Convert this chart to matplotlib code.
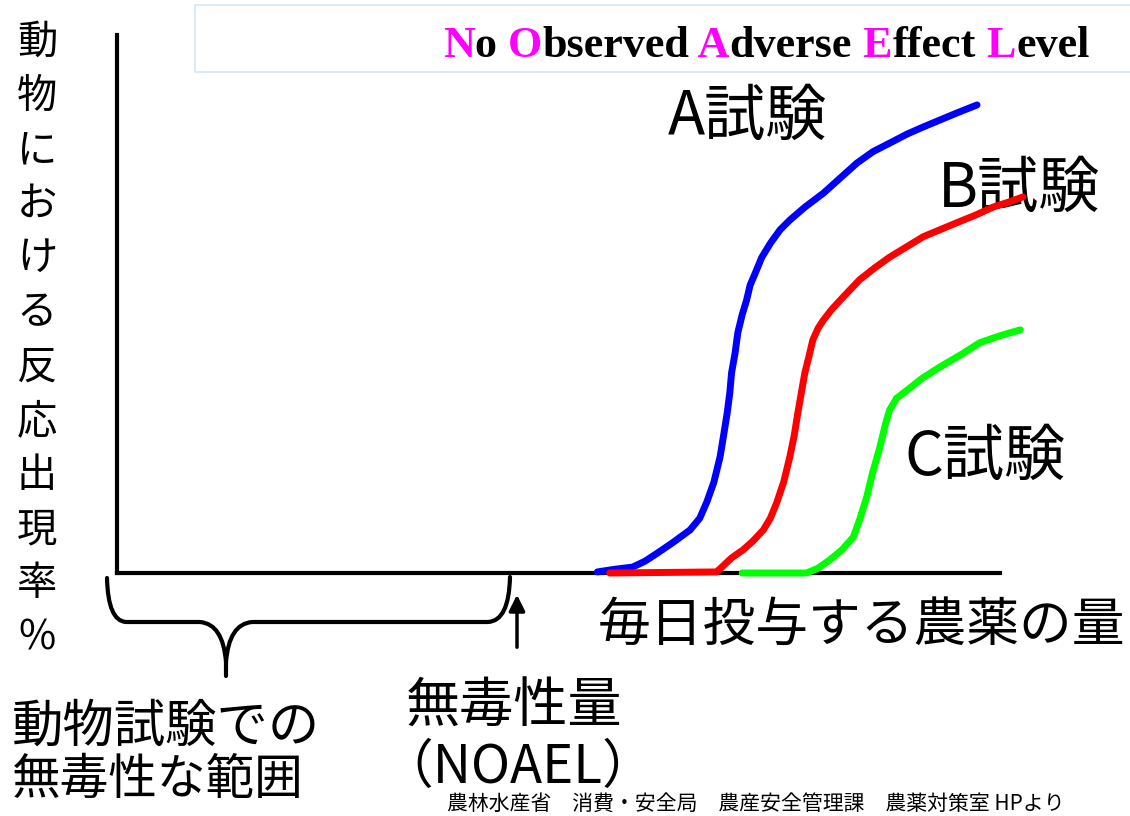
import matplotlib
matplotlib.use('Agg')
import matplotlib.pyplot as plt
from matplotlib.path import Path
from matplotlib.patches import PathPatch, Rectangle

plt.rcParams['font.family'] = ['Noto Sans CJK JP', 'DejaVu Sans']

# Dose on x axis (0-100 = length of the axis), response rate in % on y axis
dose_a = [54.4, 56.4, 58.4, 59.8, 61.2, 62.9, 64.9, 66.0, 66.8, 67.6, 68.3,
          68.7, 69.1, 69.4, 69.6, 70.0, 70.3, 70.8, 71.3, 71.7, 72.3, 73.0,
          74.0, 75.1, 76.2, 77.9, 80.0, 81.9, 83.8, 85.6, 87.5, 89.5, 91.3,
          93.2, 95.1, 97.4]
resp_a = [0.2, 0.7, 1.1, 2.2, 3.7, 5.6, 8.0, 10.2, 13.2, 16.9, 21.6,
          25.6, 29.7, 33.5, 37.2, 40.9, 44.6, 48.0, 50.7, 53.5, 55.8, 58.6,
          61.3, 63.8, 65.6, 68.0, 70.6, 73.4, 76.2, 78.3, 79.9, 81.6, 82.9,
          84.2, 85.5, 87.0]

dose_b = [55.8, 67.9, 68.5, 69.6, 70.9, 72.0, 73.2, 74.0, 74.7, 75.5, 76.2,
          76.7, 77.1, 77.5, 77.9, 78.4, 78.8, 79.4, 80.0, 80.9, 81.9, 83.0,
          84.1, 85.8, 87.5, 89.5, 91.3, 93.2, 95.1, 97.2, 99.2, 100.9, 102.6]
resp_b = [0.0, 0.2, 1.1, 2.8, 4.3, 5.9, 8.0, 10.2, 13.0, 16.9, 21.6,
          25.6, 29.7, 33.5, 37.2, 40.5, 43.3, 45.5, 47.0, 48.9, 50.7, 52.6,
          54.5, 56.7, 58.7, 60.7, 62.5, 63.8, 65.1, 66.5, 68.0, 68.9, 69.9]

dose_c = [70.8, 78.1, 79.4, 80.7, 82.1, 83.4, 84.1, 84.9, 85.6, 86.4, 87.0,
          87.5, 88.3, 89.5, 91.2, 93.2, 95.5, 97.7, 100.0, 102.3]
resp_c = [0.0, 0.0, 0.9, 2.4, 4.3, 6.7, 9.9, 14.1, 18.8, 23.4, 27.5,
          30.3, 32.5, 34.0, 36.2, 38.3, 40.5, 42.8, 44.1, 45.2]

trial_labels = ['A試験', 'B試験', 'C試験']
trial_colors = ['#0000ff', '#ff0000', '#00ff00']

ylabel = '動物における反応出現率%'
xlabel = '毎日投与する農薬の量'
title_parts = [('N', True), ('o', False), (' O', True), ('bserved', False),
               (' A', True), ('dverse', False), (' E', True), ('ffect', False),
               (' L', True), ('evel', False)]
source = '農林水産省　消費・安全局　農産安全管理課　農薬対策室 HPより'

fig = plt.figure(figsize=(11.3, 8.16), dpi=100)

# overlay in pixel units for the annotations
ov = fig.add_axes([0, 0, 1, 1])
ov.set_xlim(0, 1130)
ov.set_ylim(816, 0)
ov.axis('off')

# the dose-response axes
ax = fig.add_axes([117 / 1130, 243 / 816, 883 / 1130, 538 / 816])
ax.set_xlim(0, 100)
ax.set_ylim(0, 100)
ax.patch.set_alpha(0)
ax.spines['top'].set_visible(False)
ax.spines['right'].set_visible(False)
ax.spines['left'].set_linewidth(3)
ax.spines['bottom'].set_linewidth(3)
ax.set_xticks([])
ax.set_yticks([])

for d, r, c in zip([dose_a, dose_b, dose_c], [resp_a, resp_b, resp_c], trial_colors):
    ax.plot(d, r, color=c, lw=5, clip_on=False, zorder=3,
            solid_capstyle='round', solid_joinstyle='round')

# curve labels
for lab, pos in zip(trial_labels, [(668, 118), (938, 190), (904, 458)]):
    ov.text(pos[0], pos[1], lab, fontsize=44, ha='left', va='center')

# vertical y label, one character per row
for i, ch in enumerate(ylabel):
    ov.text(37, 42 + i * 54.2, ch, fontsize=29, ha='center', va='center')

ov.text(598, 625, xlabel, fontsize=38, ha='left', va='center')

# title box with coloured initials
ov.add_patch(Rectangle((195, 5), 960, 67, facecolor='white',
                       edgecolor='#d5e8f7', lw=1.2, clip_on=False))
prev = None
for txt, hi in title_parts:
    kw = dict(fontsize=31.8, fontweight='bold', family='Liberation Serif',
              color='#ff00ff' if hi else 'black')
    if prev is None:
        prev = ov.text(443, 57, txt, ha='left', va='baseline', **kw)
    else:
        prev = ov.annotate(txt, xy=(1, 0), xycoords=prev, ha='left',
                           va='bottom', **kw)

# brace under the non-toxic range
verts = [(107, 578), (108, 621), (126, 622), (200, 622), (223, 624), (226, 662),
         (226, 676),
         (226, 662), (229, 624), (252, 622), (488, 622), (509, 621), (510, 577)]
codes = [Path.MOVETO, Path.CURVE3, Path.CURVE3, Path.LINETO, Path.CURVE3, Path.CURVE3,
         Path.LINETO,
         Path.MOVETO, Path.CURVE3, Path.CURVE3, Path.LINETO, Path.CURVE3, Path.CURVE3]
ov.add_patch(PathPatch(Path(verts, codes), facecolor='none', edgecolor='black',
                       lw=3, capstyle='round'))

# NOAEL arrow
ov.annotate('', xy=(517, 592), xytext=(517, 650),
            arrowprops=dict(arrowstyle='-|>', color='black', lw=2.5,
                            mutation_scale=24))

ov.text(12, 727, '動物試験での', fontsize=37, ha='left', va='center')
ov.text(12, 780, '無毒性な範囲', fontsize=35, ha='left', va='center')
ov.text(406, 707, '無毒性量', fontsize=39, ha='left', va='center')
ov.text(380, 767, '（NOAEL）', fontsize=38, ha='left', va='center')

ov.text(447, 815, source, fontsize=15, ha='left', va='bottom')

fig.savefig('out.png', dpi=100)
